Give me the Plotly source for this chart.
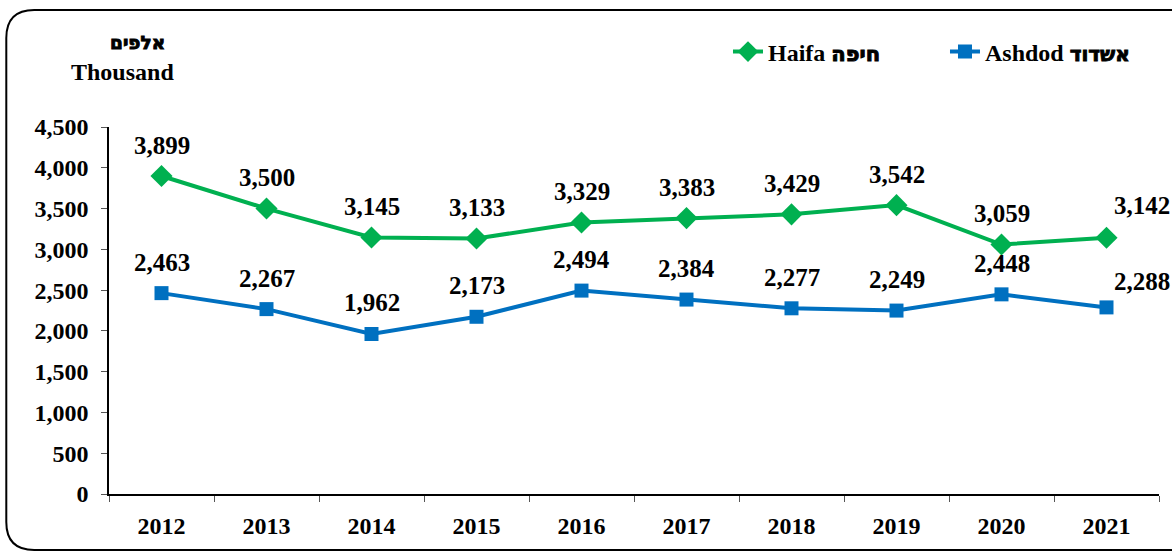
import plotly.graph_objects as go

years = [2012, 2013, 2014, 2015, 2016, 2017, 2018, 2019, 2020, 2021]
haifa = [3899, 3500, 3145, 3133, 3329, 3383, 3429, 3542, 3059, 3142]
ashdod = [2463, 2267, 1962, 2173, 2494, 2384, 2277, 2249, 2448, 2288]
haifa_en, haifa_he = "Haifa", "חיפה"
ashdod_en, ashdod_he = "Ashdod", "אשדוד"
unit_he, unit_en = "אלפים", "Thousand"
y_ticks = [0, 500, 1000, 1500, 2000, 2500, 3000, 3500, 4000, 4500]

GREEN = "#00B050"
BLUE = "#0070C0"
FONT = "Liberation Serif"
HEB = "font-family:'DejaVu Sans';stroke:black;stroke-width:0.9px"

W, H = 1172, 554
ML, MR, MT, MB = 109, 10, 127, 60
PW, PH = W - ML - MR, H - MT - MB

def px(x):
    return (x - ML) / PW

def py(y):
    return (H - MB - y) / PH

def heb(t, size):
    return f"<span style=\"{HEB};font-size:{size}px\"><b>{t}</b></span>"

fig = go.Figure()
fig.add_trace(go.Scatter(x=years, y=haifa, name=f"<b>{haifa_en}</b> " + heb(haifa_he, 21),
                         mode="lines+markers", line=dict(color=GREEN, width=4),
                         marker=dict(symbol="diamond", size=17, color=GREEN)))
fig.add_trace(go.Scatter(x=years, y=ashdod, name=f"<b>{ashdod_en}</b> " + heb(ashdod_he, 20),
                         mode="lines+markers", line=dict(color=BLUE, width=4),
                         marker=dict(symbol="square", size=14, color=BLUE)))

annos = []
for series in (haifa, ashdod):
    for i, (x, v) in enumerate(zip(years, series)):
        last = i == len(years) - 1
        ys = 31
        if last:
            ys = 32 if series is haifa else 26
        annos.append(dict(x=x, y=v, xref="x", yref="y", text=f"<b>{v:,}</b>", showarrow=False,
                          yshift=ys, xshift=5 if last else 0,
                          xanchor="left" if last else "center", yanchor="middle",
                          font=dict(family=FONT, size=25, color="black")))

annos.append(dict(x=px(138), y=py(43), xref="paper", yref="paper", text=heb(unit_he, 18.5),
                  xanchor="center", yanchor="middle",
                  showarrow=False, font=dict(family=FONT, size=24, color="black")))
annos.append(dict(x=px(123), y=py(72), xref="paper", yref="paper", text=f"<b>{unit_en}</b>",
                  xanchor="center", yanchor="middle",
                  showarrow=False, font=dict(family=FONT, size=24, color="black")))

r = 28
L, T, B, R = 6, 10, 550, 1200
path = (f"M {px(R)},{py(T)} L {px(L + r)},{py(T)} Q {px(L)},{py(T)} {px(L)},{py(T + r)} "
        f"L {px(L)},{py(B - r)} Q {px(L)},{py(B)} {px(L + r)},{py(B)} L {px(R)},{py(B)}")

fig.update_layout(
    width=W, height=H,
    margin=dict(l=ML, r=MR, t=MT, b=MB),
    paper_bgcolor="white", plot_bgcolor="white",
    font=dict(family=FONT, size=24, color="black"),
    annotations=annos,
    shapes=[dict(type="path", path=path, xref="paper", yref="paper",
                 line=dict(color="black", width=2))],
    legend=dict(orientation="h", x=px(1165), xanchor="right", y=py(52), yanchor="middle",
                font=dict(family=FONT, size=24, color="black"), bgcolor="rgba(0,0,0,0)",
                entrywidth=172, traceorder="normal"),
    showlegend=True,
    xaxis=dict(range=[2011.5, 2021.5], tickvals=years, ticktext=[f"<b>{y}</b>" for y in years],
               ticks="", showgrid=False, zeroline=False, showline=True, linecolor="black",
               linewidth=1.5, tickfont=dict(family=FONT, size=24),
               minor=dict(tick0=2011.5, dtick=1, ticks="outside", ticklen=6, tickcolor="#555"),
               ticklabelstandoff=9),
    yaxis=dict(range=[0, 4500], tickvals=y_ticks, ticktext=[f"<b>{v:,}</b>" for v in y_ticks],
               ticks="outside", ticklen=6, tickcolor="#555", showgrid=False, zeroline=False,
               showline=True, linecolor="black", linewidth=1.5, tickfont=dict(family=FONT, size=24),
               ticklabelstandoff=8),
)

fig.write_html("out.html", config={"displayModeBar": False},
               post_script="document.body.style.margin='0px';")
